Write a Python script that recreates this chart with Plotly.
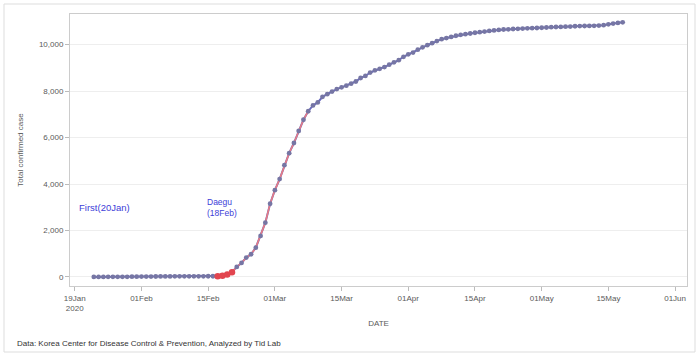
import datetime as dt
import plotly.graph_objects as go

start_date = "2020-01-23"
cases = [1, 2, 2, 3, 4, 4, 4, 6, 11,            # Jan 23 - Jan 31
         12, 15, 15, 16, 18, 23, 24, 24, 27, 27, 28, 28, 28, 28, 28, 29, 30, 31,
         51, 104, 204, 433, 602, 833, 977, 1261, 1766, 2337, 3150,   # Feb
         3736, 4212, 4812, 5328, 5766, 6284, 6767, 7134, 7382, 7513, 7755, 7869,
         7979, 8086, 8162, 8236, 8320, 8413, 8565, 8652, 8799, 8897, 8961, 9037,
         9137, 9241, 9332, 9478, 9583, 9661, 9786,                    # Mar
         9887, 9976, 10062, 10156, 10237, 10284, 10331, 10384, 10423, 10450,
         10480, 10512, 10537, 10564, 10591, 10613, 10635, 10653, 10661, 10674,
         10683, 10694, 10702, 10708, 10718, 10728, 10738, 10752, 10761, 10765,  # Apr
         10774, 10780, 10793, 10801, 10804, 10806, 10810, 10822, 10840, 10874,
         10909, 10936, 10962]                                          # May 1-13

d0 = dt.date.fromisoformat(start_date)
dates = [d0 + dt.timedelta(days=i) for i in range(len(cases))]

daegu_start = "2020-02-18"
daegu_red_end = "2020-02-21"
surge_end = "2020-03-08"

tick_start = "2020-01-19"
tick_labels = ["19Jan<br>2020", "01Feb", "15Feb", "01Mar", "15Mar",
               "01Apr", "15Apr", "01May", "15May", "01Jun"]
ytick_vals = [0, 2000, 4000, 6000, 8000, 10000]

t0 = dt.date.fromisoformat(tick_start)
tickvals = [t0 + dt.timedelta(days=14 * k) for k in range(len(tick_labels))]

ds = dt.date.fromisoformat(daegu_start)
dr = dt.date.fromisoformat(daegu_red_end)
de = dt.date.fromisoformat(surge_end)
surge_x = [d for d in dates if ds <= d <= de]
surge_y = [c for d, c in zip(dates, cases) if ds <= d <= de]
red_x = [d for d in dates if ds <= d <= dr]
red_y = [c for d, c in zip(dates, cases) if ds <= d <= dr]

BLUE = "#6b6bbf"
MARK = "#7676a4"
RED = "#e2454f"
FONT = "Arial"
TXT = "#5a5a5a"

fig = go.Figure()
fig.add_trace(go.Scatter(x=dates, y=cases, mode="lines", line=dict(color=BLUE, width=2),
                         showlegend=False, hoverinfo="skip"))
fig.add_trace(go.Scatter(x=surge_x, y=surge_y, mode="lines", line=dict(color="#e77b85", width=1.6),
                         showlegend=False, hoverinfo="skip"))
fig.add_trace(go.Scatter(x=dates, y=cases, mode="markers",
                         marker=dict(color=MARK, size=4.8, line=dict(width=0)),
                         showlegend=False))
fig.add_trace(go.Scatter(x=red_x, y=red_y, mode="markers",
                         marker=dict(color=RED, size=6.5, line=dict(width=0)),
                         showlegend=False))

fig.add_annotation(x=0.011, xref="paper", y=2970, yref="y", text="First(20Jan)",
                   showarrow=False, xanchor="left", yanchor="middle",
                   font=dict(family=FONT, size=9.5, color="#4040d8"))
fig.add_annotation(x=dt.datetime(2020, 2, 15, 6), y=2970, text="Daegu<br>(18Feb)",
                   showarrow=False, xanchor="left", yanchor="middle", align="left",
                   font=dict(family=FONT, size=8.5, color="#4040d8"))

# footer (paper coords relative to plot area: l=70..687, t=14..286)
fig.add_annotation(x=(15 - 70) / 617, xref="paper", y=(286 - 343) / 272, yref="paper",
                   text="Data: Korea Center for Disease Control & Prevention, Analyzed by Tid Lab",
                   showarrow=False, xanchor="left", yanchor="middle",
                   font=dict(family=FONT, size=8, color="#333333"))

fig.add_shape(type="rect", xref="paper", yref="paper",
              x0=(4 - 70) / 617, x1=(695 - 70) / 617,
              y0=(286 - 352) / 272, y1=(286 - 4) / 272,
              line=dict(color="#dddddd", width=1), layer="below")

fig.update_layout(
    width=699, height=359,
    margin=dict(l=70, r=12, t=14, b=73),
    paper_bgcolor="white", plot_bgcolor="white",
    font=dict(family=FONT, size=8, color=TXT),
    xaxis=dict(
        type="date",
        range=[dt.datetime(2020, 1, 18), dt.datetime(2020, 5, 26, 12)],
        tickvals=tickvals, ticktext=tick_labels,
        ticks="outside", ticklen=4, tickcolor="#bbbbbb",
        showgrid=False, showline=True, linecolor="#cccccc", mirror=True, zeroline=False,
        title=dict(text="DATE", font=dict(family=FONT, size=8, color=TXT), standoff=8),
        tickfont=dict(family=FONT, size=8, color=TXT),
    ),
    yaxis=dict(
        range=[-390, 11320],
        tickvals=ytick_vals, tickformat=",d",
        ticks="outside", ticklen=4, tickcolor="#bbbbbb",
        showgrid=True, gridcolor="#eeeeee", gridwidth=1,
        showline=True, linecolor="#cccccc", mirror=True, zeroline=False,
        title=dict(text="Total confirmed case", font=dict(family=FONT, size=8, color=TXT), standoff=14),
        tickfont=dict(family=FONT, size=8, color=TXT),
    ),
)

fig.write_html("out.html", config={"displayModeBar": False},
               post_script="document.body.style.margin='0';")
